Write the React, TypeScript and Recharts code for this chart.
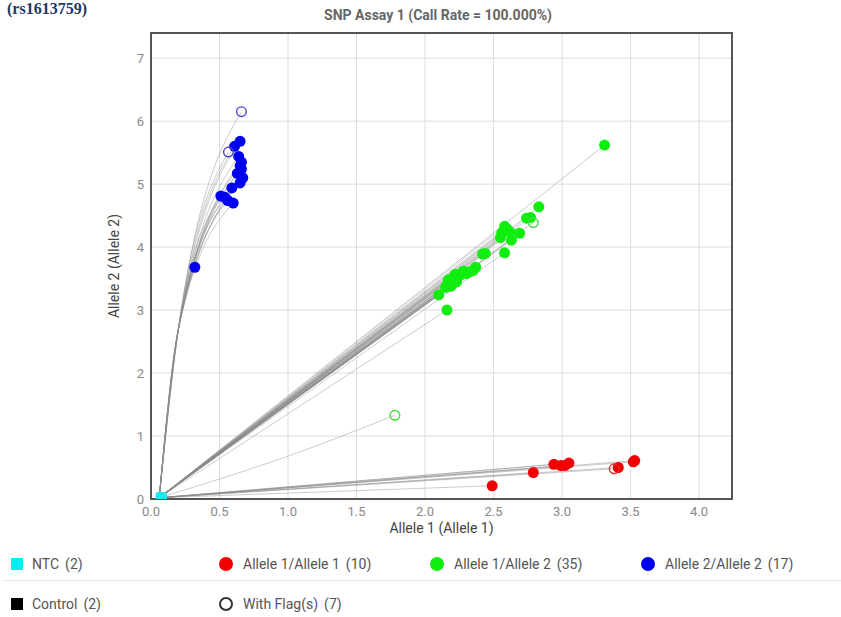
import React from "react";
import {
  CartesianGrid,
  ComposedChart,
  Line,
  ReferenceArea,
  Scatter,
  XAxis,
  YAxis,
} from "recharts";

// where every amplification trace starts (the NTC corner)
const traceStart = { x: 0.06, y: 0.02 };

const ntcPoints = [
  { x: 0.07, y: 0.03 },
  { x: 0.08, y: 0.02 },
];

const allele11 = [
  { x: 2.49, y: 0.21 },
  { x: 2.79, y: 0.42 },
  { x: 2.94, y: 0.55 },
  { x: 2.99, y: 0.53 },
  { x: 3.02, y: 0.53 },
  { x: 3.05, y: 0.57 },
  { x: 3.41, y: 0.5 },
  { x: 3.52, y: 0.59 },
  { x: 3.53, y: 0.61 },
];
const allele11Flagged = [{ x: 3.38, y: 0.48 }];

const allele12 = [
  { x: 3.31, y: 5.62 },
  { x: 2.83, y: 4.64 },
  { x: 2.74, y: 4.46 },
  { x: 2.77, y: 4.47 },
  { x: 2.58, y: 4.33 },
  { x: 2.6, y: 4.28 },
  { x: 2.56, y: 4.23 },
  { x: 2.62, y: 4.24 },
  { x: 2.69, y: 4.22 },
  { x: 2.55, y: 4.15 },
  { x: 2.63, y: 4.11 },
  { x: 2.58, y: 3.91 },
  { x: 2.42, y: 3.89 },
  { x: 2.44, y: 3.9 },
  { x: 2.37, y: 3.68 },
  { x: 2.35, y: 3.63 },
  { x: 2.33, y: 3.61 },
  { x: 2.3, y: 3.58 },
  { x: 2.28, y: 3.62 },
  { x: 2.26, y: 3.56 },
  { x: 2.24, y: 3.53 },
  { x: 2.22, y: 3.57 },
  { x: 2.2, y: 3.5 },
  { x: 2.18, y: 3.47 },
  { x: 2.16, y: 3.4 },
  { x: 2.19, y: 3.38 },
  { x: 2.23, y: 3.45 },
  { x: 2.17, y: 3.48 },
  { x: 2.21, y: 3.44 },
  { x: 2.15, y: 3.36 },
  { x: 2.1, y: 3.24 },
  { x: 2.16, y: 3.0 },
  { x: 2.59, y: 4.3 },
];
const allele12Flagged = [
  { x: 2.79, y: 4.39 },
  { x: 1.78, y: 1.33 },
];

const allele22 = [
  { x: 0.65, y: 5.68 },
  { x: 0.61, y: 5.6 },
  { x: 0.64, y: 5.44 },
  { x: 0.66, y: 5.35 },
  { x: 0.65, y: 5.29 },
  { x: 0.66, y: 5.24 },
  { x: 0.63, y: 5.17 },
  { x: 0.67, y: 5.1 },
  { x: 0.65, y: 5.02 },
  { x: 0.59, y: 4.94 },
  { x: 0.51, y: 4.81 },
  { x: 0.54, y: 4.79 },
  { x: 0.56, y: 4.74 },
  { x: 0.6, y: 4.7 },
  { x: 0.32, y: 3.68 },
];
const allele22Flagged = [
  { x: 0.66, y: 6.15 },
  { x: 0.565, y: 5.51 },
];

// bend points the traces pass through
const allele22Bend = { x: 0.2, y: 2.7 };
const lowFlagBend = { x: 1.0, y: 0.68 };

const xTicks = [0, 0.5, 1, 1.5, 2, 2.5, 3, 3.5, 4];
const yTicks = [0, 1, 2, 3, 4, 5, 6, 7];

const legendRow1 = [
  { label: "NTC", count: 2, color: "#00f0f0", kind: "square", left: 11 },
  { label: "Allele 1/Allele 1", count: 10, color: "#f20000", kind: "dot", left: 219 },
  { label: "Allele 1/Allele 2", count: 35, color: "#10ee10", kind: "dot", left: 430 },
  { label: "Allele 2/Allele 2", count: 17, color: "#0000f0", kind: "dot", left: 641 },
];
const legendRow2 = [
  { label: "Control", count: 2, color: "#000000", kind: "square", left: 11 },
  { label: "With Flag(s)", count: 7, color: "#333333", kind: "ring", left: 219 },
];

const traces = [
  ...allele22.map((p) => [traceStart, allele22Bend, p]),
  ...allele22Flagged.map((p) => [traceStart, allele22Bend, p]),
  ...allele12.map((p) => [traceStart, p]),
  [traceStart, allele12Flagged[0]],
  [traceStart, lowFlagBend, allele12Flagged[1]],
  ...allele11.map((p) => [traceStart, p]),
  ...allele11Flagged.map((p) => [traceStart, p]),
];

const dot = (color: string) => (p: any) =>
  <circle cx={p.cx} cy={p.cy} r={5.5} fill={color} />;
const ring = (color: string) => (p: any) =>
  <circle cx={p.cx} cy={p.cy} r={4.8} fill="none" stroke={color} strokeWidth={1.4} />;
const square = (color: string) => (p: any) =>
  <rect x={p.cx - 5} y={p.cy - 5} width={10} height={10} rx={2} fill={color} />;

const font = "Roboto, 'Noto Sans', sans-serif";

const LegendItem = ({ item, top }: { item: any; top: number }) => (
  <div
    style={{
      position: "absolute",
      left: item.left,
      top,
      display: "flex",
      alignItems: "center",
      fontFamily: font,
      fontSize: 14,
      color: "#555",
      whiteSpace: "nowrap",
    }}
  >
    {item.kind === "square" && (
      <span style={{ width: 12, height: 12, background: item.color, marginRight: 9 }} />
    )}
    {item.kind === "dot" && (
      <span
        style={{ width: 14, height: 14, borderRadius: 7, background: item.color, marginRight: 10 }}
      />
    )}
    {item.kind === "ring" && (
      <span
        style={{
          width: 10,
          height: 10,
          borderRadius: 7,
          border: `2px solid ${item.color}`,
          marginRight: 10,
        }}
      />
    )}
    <span>{item.label}</span>
    <span style={{ marginLeft: 6 }}>({item.count})</span>
  </div>
);

export default function App() {
  return (
    <div
      style={{
        position: "absolute",
        left: 0,
        top: 0,
        width: 841,
        height: 617,
        overflow: "hidden",
        background: "#fff",
      }}
    >
      <div
        style={{
          position: "absolute",
          left: 7,
          top: 0,
          fontFamily: "'Liberation Serif', serif",
          fontWeight: "bold",
          fontSize: 16,
          lineHeight: "18px",
          color: "#1f3864",
          whiteSpace: "nowrap",
        }}
      >
        (rs1613759)
      </div>
      <div
        style={{
          position: "absolute",
          left: 0,
          width: 876,
          top: 7,
          textAlign: "center",
          fontFamily: font,
          fontWeight: "bold",
          fontSize: 14,
          color: "#666",
        }}
      >
        SNP Assay 1 (Call Rate = 100.000%)
      </div>
      <ComposedChart
        width={841}
        height={560}
        margin={{ top: 33, right: 109, left: 78, bottom: 3 }}
        style={{ position: "absolute", left: 0, top: 0 }}
      >
        <CartesianGrid stroke="#dcdcdc" />
        <XAxis
          type="number"
          dataKey="x"
          domain={[0, 4.24]}
          ticks={xTicks}
          allowDataOverflow
          height={58}
          tickLine={false}
          axisLine={false}
          tickSize={6}
          tickFormatter={(v: number) => v.toFixed(1)}
          tick={{ fill: "#888", fontSize: 13, fontFamily: font }}
          label={{
            value: "Allele 1 (Allele 1)",
            position: "center",
            fill: "#444",
            fontSize: 14,
            fontFamily: font,
          }}
        />
        <YAxis
          type="number"
          dataKey="y"
          domain={[0, 7.4]}
          ticks={yTicks}
          allowDataOverflow
          width={73}
          tickLine={false}
          axisLine={false}
          tickSize={6}
          tickMargin={1}
          tick={{ fill: "#888", fontSize: 13, fontFamily: font }}
          label={{
            value: "Allele 2 (Allele 2)",
            position: "center",
            angle: -90,
            fill: "#444",
            fontSize: 14,
            fontFamily: font,
          }}
        />
        {traces.map((t, i) => (
          <Line
            key={"t" + i}
            data={t}
            dataKey="y"
            type="monotone"
            stroke="#8c8c8c"
            strokeOpacity={0.45}
            strokeWidth={1}
            dot={false}
            activeDot={false}
            isAnimationActive={false}
          />
        ))}
        <ReferenceArea
          x1={0}
          x2={4.24}
          y1={0}
          y2={7.4}
          fill="none"
          stroke="#555"
          strokeWidth={2}
          ifOverflow="visible"
        />
        <Scatter data={allele11} dataKey="y" shape={dot("#f20000")} isAnimationActive={false} />
        <Scatter data={allele12} dataKey="y" shape={dot("#10ee10")} isAnimationActive={false} />
        <Scatter data={allele22} dataKey="y" shape={dot("#0000f0")} isAnimationActive={false} />
        <Scatter data={allele11Flagged} dataKey="y" shape={ring("#e03030")} isAnimationActive={false} />
        <Scatter data={allele12Flagged} dataKey="y" shape={ring("#40dd40")} isAnimationActive={false} />
        <Scatter data={allele22Flagged} dataKey="y" shape={ring("#4a45c8")} isAnimationActive={false} />
        <Scatter data={ntcPoints} dataKey="y" shape={square("#1ee8f0")} isAnimationActive={false} />
      </ComposedChart>
      {legendRow1.map((item) => (
        <LegendItem key={item.label} item={item} top={556} />
      ))}
      <div
        style={{ position: "absolute", left: 3, right: 0, top: 580, height: 1, background: "#e4e4e4" }}
      />
      {legendRow2.map((item) => (
        <LegendItem key={item.label} item={item} top={596} />
      ))}
    </div>
  );
}
